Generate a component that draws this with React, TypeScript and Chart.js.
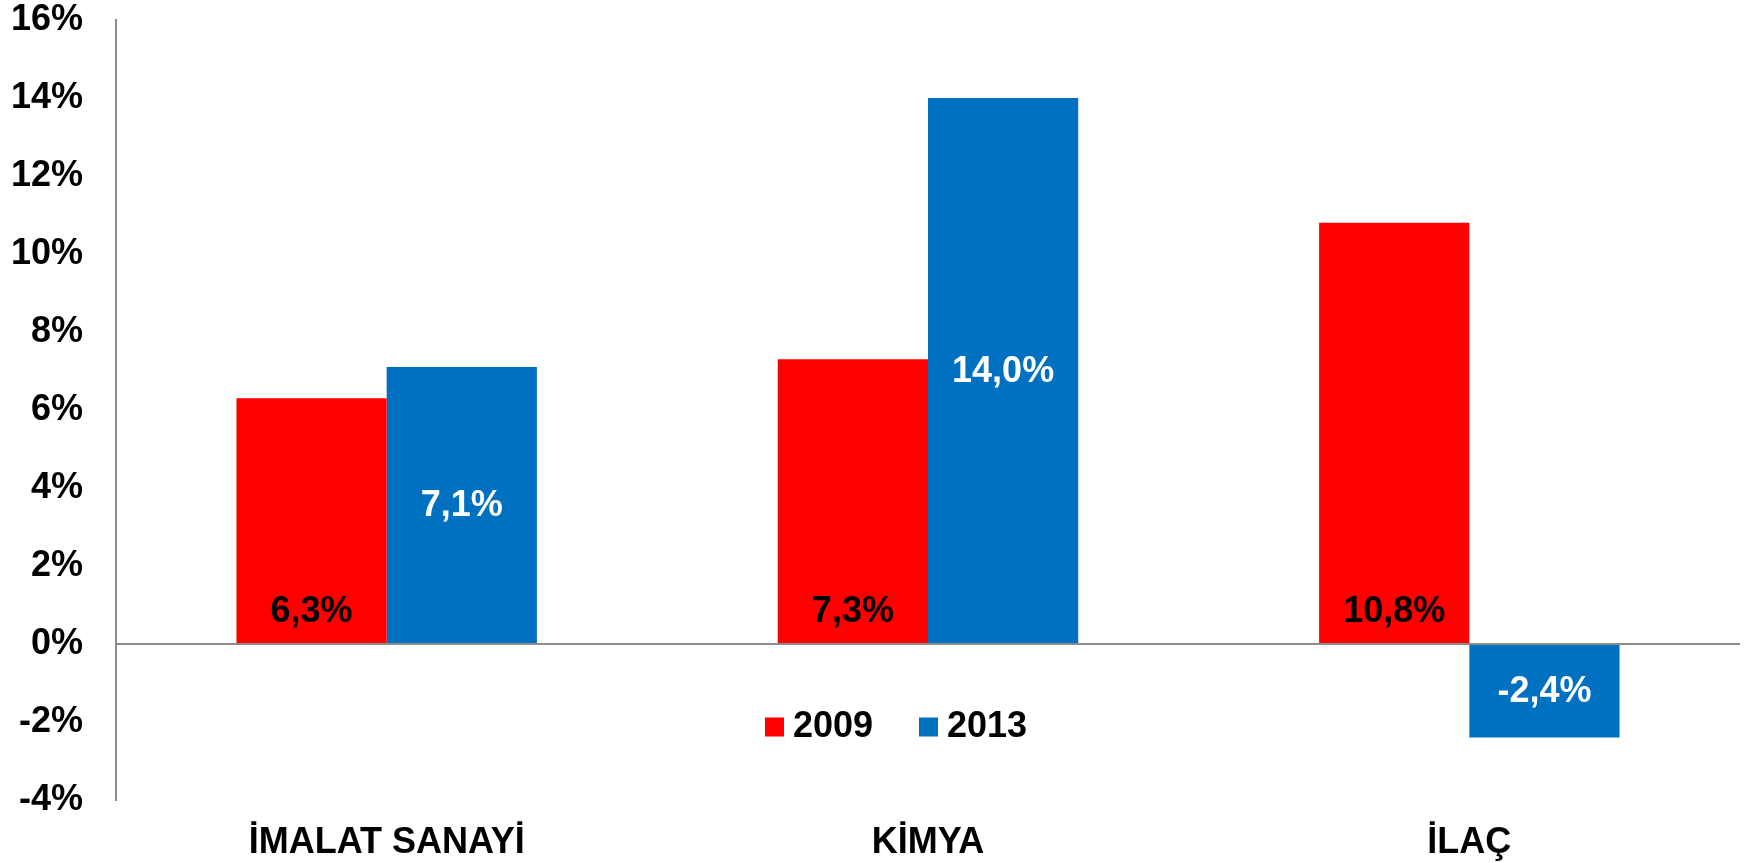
import React, { useEffect, useRef } from "react";
import { Chart, registerables } from "chart.js";

Chart.register(...registerables);

const categories = ["İMALAT SANAYİ", "KİMYA", "İLAÇ"];
const seriesNames = ["2009", "2013"];
const values2009 = [6.3, 7.3, 10.8];
const values2013 = [7.1, 14.0, -2.4];
const seriesColors = ["#FF0000", "#0070C0"];
const labelColors = ["#000000", "#FFFFFF"];
const yMin = -4;
const yMax = 16;
const yStep = 2;

const FONT = "'Liberation Sans', Arial, Helvetica, sans-serif";

const fmt = (v: number) => v.toFixed(1).replace(".", ",") + "%";

const dataLabelPlugin = {
  id: "dataLabels",
  afterDatasetsDraw(chart: any) {
    const ctx = chart.ctx;
    const yScale = chart.scales.y;
    const zero = yScale.getPixelForValue(0);
    ctx.save();
    ctx.font = `bold 36px ${FONT}`;
    ctx.textAlign = "center";
    ctx.textBaseline = "middle";
    chart.data.datasets.forEach((ds: any, di: number) => {
      const meta = chart.getDatasetMeta(di);
      meta.data.forEach((bar: any, i: number) => {
        const v = ds.data[i];
        ctx.fillStyle = labelColors[di];
        let y;
        if (di === 0) {
          y = zero - 32;
        } else {
          y = (bar.y + zero) / 2 + 1;
        }
        ctx.fillText(fmt(v), bar.x, y);
      });
    });
    ctx.restore();
  },
};

const legendPlugin = {
  id: "innerLegend",
  afterDraw(chart: any) {
    const ctx = chart.ctx;
    ctx.save();
    ctx.font = `bold 36px ${FONT}`;
    ctx.textBaseline = "middle";
    ctx.textAlign = "left";
    const cy = 727;
    let x = 765;
    chart.data.datasets.forEach((ds: any) => {
      ctx.fillStyle = ds.backgroundColor;
      ctx.fillRect(x, cy - 9.5, 19, 19);
      ctx.fillStyle = "#000000";
      ctx.fillText(ds.label, x + 28, cy);
      x += 154;
    });
    ctx.restore();
  },
};

export default function App() {
  const canvasRef = useRef<HTMLCanvasElement | null>(null);

  useEffect(() => {
    document.body.style.margin = "0";
    const canvas = canvasRef.current;
    if (!canvas) return;
    const chart = new Chart(canvas, {
      type: "bar",
      data: {
        labels: categories,
        datasets: [
          {
            label: seriesNames[0],
            data: values2009,
            backgroundColor: seriesColors[0],
            borderWidth: 0,
          },
          {
            label: seriesNames[1],
            data: values2013,
            backgroundColor: seriesColors[1],
            borderWidth: 0,
          },
        ],
      },
      options: {
        animation: false,
        responsive: false,
        maintainAspectRatio: false,
        devicePixelRatio: 1,
        layout: { padding: { top: 20, right: 6, left: 0, bottom: 0 } },
        datasets: {
          bar: { barPercentage: 1, categoryPercentage: 0.555 },
        },
        plugins: {
          legend: { display: false },
          tooltip: { enabled: false },
        },
        scales: {
          x: {
            grid: { display: false, drawTicks: false },
            border: { display: false },
            ticks: {
              color: "#000000",
              font: { family: FONT, size: 36, weight: "bold" },
              padding: 21,
              maxRotation: 0,
            },
            afterFit(scale: any) {
              scale.height = 63;
              scale.paddingLeft = 0;
              scale.paddingRight = 0;
            },
          },
          y: {
            min: yMin,
            max: yMax,
            grid: {
              drawTicks: false,
              color: (c: any) => (c.tick && c.tick.value === 0 ? "#8C8C8C" : "rgba(0,0,0,0)"),
              lineWidth: 2,
            },
            border: { display: true, color: "#8C8C8C", width: 2 },
            ticks: {
              stepSize: yStep,
              color: "#000000",
              font: { family: FONT, size: 36, weight: "bold" },
              padding: 33,
              callback: (v: any) => `${v}%`,
            },
            afterFit(scale: any) {
              scale.width = 116;
              scale.paddingTop = 0;
              scale.paddingBottom = 0;
            },
          },
        },
      },
      plugins: [dataLabelPlugin, legendPlugin],
    });
    return () => chart.destroy();
  }, []);

  return (
    <div style={{ position: "absolute", left: 0, top: 0, width: 1746, height: 863, background: "#fff" }}>
      <canvas ref={canvasRef} width={1746} height={863} style={{ width: 1746, height: 863, display: "block" }} />
    </div>
  );
}
